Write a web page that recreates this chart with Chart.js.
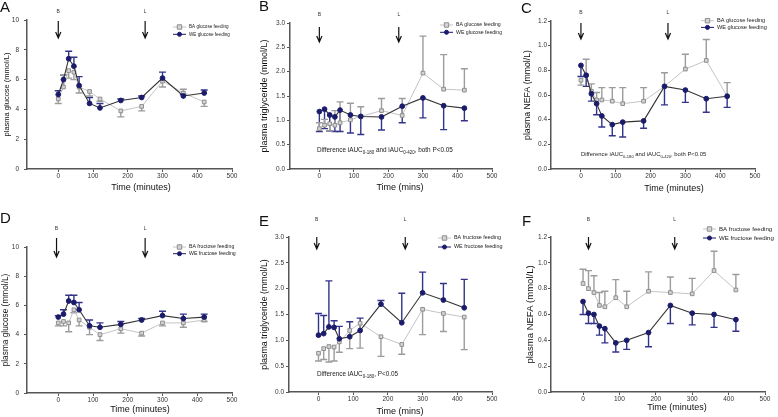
<!DOCTYPE html>
<html>
<head>
<meta charset="utf-8">
<script src="https://cdn.jsdelivr.net/npm/chart.js@4.4.0/dist/chart.umd.min.js"></script>
<style>
  body { margin: 0; background: #fff; width: 778px; height: 417px; position: relative; overflow: hidden; font-family: "Liberation Sans", Arial, sans-serif; }
  .letter { position: absolute; font-size: 15px; line-height: 15px; color: #111; }
</style>
</head>
<body>
<script>
// sampling times (minutes)
const times = [0, 15, 30, 45, 60, 90, 120, 180, 240, 300, 360, 420];
const xTicks = [0, 100, 200, 300, 400, 500];

const glucoseTicks = [0, 2, 4, 6, 8, 10];
const glucoseTickLabels = ["0", "2", "4", "6", "8", "10"];
const tgTicks = [0, 0.5, 1, 1.5, 2, 2.5, 3];
const tgTickLabels = ["0.0", "0.5", "1.0", "1.5", "2.0", "2.5", "3.0"];
const nefaTicks = [0, 0.2, 0.4, 0.6, 0.8, 1.0, 1.2];
const nefaTickLabels = ["0.0", "0.2", "0.4", "0.6", "0.8", "1.0", "1.2"];

// A: plasma glucose, glucose feeding (mean, end of SEM bar)
const gluGlcBA = [4.7, 5.5, 6.6, 6.5, 5.5, 5.2, 4.7, 3.9, 4.2, 5.9, 5.1, 4.5];
const gluGlcBAerr = [4.4, 6.3, 6.1, 6.0, 5.1, 4.9, 4.55, 3.5, 3.9, 5.5, 5.35, 4.2];
const gluGlcWE = [5.0, 6.0, 7.4, 6.9, 5.6, 4.4, 4.1, 4.6, 4.8, 6.1, 4.9, 5.1];
const gluGlcWEerr = [5.25, 6.3, 7.9, 7.5, 6.2, 4.8, 4.4, 4.7, 4.9, 6.5, 5.0, 5.3];

// B: plasma triglyceride, glucose feeding
const tgGlcBA = [0.83, 0.90, 0.93, 0.90, 0.95, 1.01, 1.08, 1.20, 1.10, 1.97, 1.64, 1.62];
const tgGlcBAerr = [0.95, 1.02, 0.78, 1.20, 1.38, 1.35, 1.28, 1.45, 1.45, 2.73, 2.35, 2.06];
const tgGlcWE = [1.18, 1.23, 1.11, 1.07, 1.21, 1.11, 1.08, 1.07, 1.29, 1.46, 1.30, 1.25];
const tgGlcWEerr = [0.77, 0.83, 0.78, 0.77, 0.77, 0.74, 0.71, 0.80, 0.95, 1.05, 0.81, 0.99];

// C: plasma NEFA, glucose feeding
const nefaGlcBA = [0.72, 0.76, 0.63, 0.56, 0.56, 0.55, 0.53, 0.55, 0.67, 0.81, 0.88, 0.59];
const nefaGlcBAerr = [0.68, 0.89, 0.69, 0.62, 0.66, 0.66, 0.66, 0.66, 0.78, 0.93, 1.05, 0.70];
const nefaGlcWE = [0.84, 0.76, 0.61, 0.53, 0.43, 0.36, 0.38, 0.39, 0.67, 0.64, 0.57, 0.59];
const nefaGlcWEerr = [0.75, 0.67, 0.55, 0.44, 0.34, 0.27, 0.26, 0.33, 0.52, 0.54, 0.46, 0.50];

// D: plasma glucose, fructose feeding
const gluFrcBA = [4.8, 4.9, 4.8, 5.7, 5.0, 4.5, 4.0, 4.4, 4.1, 4.8, 4.8, 5.0];
const gluFrcBAerr = [4.6, 4.6, 4.2, 5.5, 4.6, 4.0, 3.6, 4.1, 3.9, 4.6, 4.5, 4.9];
const gluFrcWE = [5.2, 5.4, 6.3, 6.2, 5.7, 4.6, 4.5, 4.7, 5.0, 5.3, 5.1, 5.2];
const gluFrcWEerr = [5.3, 5.7, 6.7, 6.7, 6.2, 5.0, 4.8, 4.9, 5.1, 5.6, 5.4, 5.4];

// E: plasma triglyceride, fructose feeding
const tgFrcBA = [0.75, 0.84, 0.88, 0.87, 0.97, 1.19, 1.33, 1.07, 0.92, 1.60, 1.52, 1.45];
const tgFrcBAerr = [0.60, 0.63, 0.58, 0.60, 0.77, 0.84, 0.85, 0.69, 0.73, 1.11, 1.17, 0.82];
const tgFrcWE = [1.10, 1.13, 1.26, 1.25, 1.03, 1.07, 1.19, 1.70, 1.34, 1.92, 1.78, 1.63];
const tgFrcWEerr = [1.52, 1.48, 2.15, 1.38, 1.27, 1.36, 1.43, 1.77, 1.91, 2.32, 2.10, 2.18];

// F: plasma NEFA, fructose feeding
const nefaFrcBA = [0.84, 0.80, 0.77, 0.67, 0.66, 0.73, 0.66, 0.78, 0.77, 0.76, 0.94, 0.79];
const nefaFrcBAerr = [0.95, 0.94, 0.90, 0.77, 0.78, 0.87, 0.78, 0.93, 0.89, 0.88, 1.09, 0.91];
const nefaFrcWE = [0.70, 0.61, 0.60, 0.51, 0.49, 0.38, 0.40, 0.46, 0.67, 0.61, 0.60, 0.56];
const nefaFrcWEerr = [0.60, 0.53, 0.53, 0.44, 0.38, 0.31, 0.33, 0.35, 0.53, 0.52, 0.50, 0.47];

// meal arrows (B = breakfast, L = lunch), in minutes
const arrowLetters = ["B", "L"];
const arrowsA = [0, 250];
const arrowsB = [0, 230];
const arrowsC = [0, 250];
const arrowsD = [-5, 250];
const arrowsE = [-5, 250];
const arrowsF = [15, 252];

const glcLabels = ["BA glucose feeding", "WE glucose feeding"];
const frcLabels = ["BA fructose feeding", "WE fructose feeding"];

const noteBoth = [["Difference iAUC", 0], ["0-180", 1], [" and iAUC", 0], ["0-420", 1], [", both P<0.05", 0]];
const noteOne = [["Difference iAUC", 0], ["0-180", 1], [", P<0.05", 0]];

Chart.defaults.font.family = '"Liberation Sans", Arial, sans-serif';
const FONT = '"Liberation Sans", Arial, sans-serif';

const BA_STYLE = {
  borderColor: "#c4c4c4", borderWidth: 1, pointStyle: "rect", pointRadius: 2.6,
  pointBackgroundColor: "#d4d4d4", pointBorderColor: "#8f8f8f", pointBorderWidth: 1, errColor: "#9c9c9c"
};
const WE_STYLE = {
  borderColor: "#333333", borderWidth: 1.1, pointStyle: "circle", pointRadius: 2.4,
  pointBackgroundColor: "#1b1b6b", pointBorderColor: "#1b1b6b", pointBorderWidth: 1, errColor: "#33338a"
};

const panels = [
  { key: "A", box: { x: 0, y: 0, w: 260, h: 205 }, area: { l: 27, t: 20, r: 232, b: 169 }, xMin: -90, yMax: 10,
    yTicks: glucoseTicks, yLabels: glucoseTickLabels, yTitle: "plasma glucose (mmol/L)", yTitleSize: 7.5, yTitleX: 7, yTickPad: 5,
    xTitle: "Time (minutes)", xTitlePos: [141, 188], xTitleSize: 9,
    ba: [gluGlcBA, gluGlcBAerr], we: [gluGlcWE, gluGlcWEerr], labels: glcLabels,
    legend: { x: 173, y: 27, gap: 7.3, size: 4.6 },
    arrows: arrowsA, arrowGeom: { label: -8, top: 1, bottom: 18 },
    note: null, letter: [0, -1] },
  { key: "B", box: { x: 260, y: 0, w: 260, h: 205 }, area: { l: 290, t: 23, r: 492, b: 169 }, xMin: -85, yMax: 3,
    yTicks: tgTicks, yLabels: tgTickLabels, yTitle: "plasma triglyceride (mmol/L)", yTitleSize: 9, yTitleX: 5, yTickPad: 2,
    xTitle: "Time (mins)", xTitlePos: [400, 188], xTitleSize: 9,
    ba: [tgGlcBA, tgGlcBAerr], we: [tgGlcWE, tgGlcWEerr], labels: glcLabels,
    legend: { x: 440, y: 25, gap: 7.3, size: 5.2 },
    arrows: arrowsB, arrowGeom: { label: -8, top: 4, bottom: 19 },
    note: { segs: noteBoth, x: 317, y: 150, size: 6.4 }, letter: [259, -2] },
  { key: "C", box: { x: 520, y: 0, w: 258, h: 205 }, area: { l: 551, t: 21, r: 755, b: 169 }, xMin: -86, yMax: 1.2,
    yTicks: nefaTicks, yLabels: nefaTickLabels, yTitle: "plasma NEFA (mmol/L)", yTitleSize: 8.7, yTitleX: 8, yTickPad: 1,
    xTitle: "Time (minutes)", xTitlePos: [674, 189], xTitleSize: 9,
    ba: [nefaGlcBA, nefaGlcBAerr], we: [nefaGlcWE, nefaGlcWEerr], labels: glcLabels,
    legend: { x: 701, y: 20.7, gap: 6.7, size: 5.6 },
    arrows: arrowsC, arrowGeom: { label: -8, top: 2, bottom: 18 },
    note: { segs: noteBoth, x: 581, y: 154, size: 5.9 }, letter: [521, 0] },
  { key: "D", box: { x: 0, y: 205, w: 260, h: 212 }, area: { l: 27, t: 247, r: 232, b: 393 }, xMin: -90, yMax: 10,
    yTicks: glucoseTicks, yLabels: glucoseTickLabels, yTitle: "plasma glucose (mmol/L)", yTitleSize: 8.3, yTitleX: 6, yTickPad: 5,
    xTitle: "Time (minutes)", xTitlePos: [140, 410], xTitleSize: 9,
    ba: [gluFrcBA, gluFrcBAerr], we: [gluFrcWE, gluFrcWEerr], labels: frcLabels,
    legend: { x: 173, y: 247, gap: 6.7, size: 5.2 },
    arrows: arrowsD, arrowGeom: { label: -18, top: -9, bottom: 10 },
    note: null, letter: [0, 210] },
  { key: "E", box: { x: 260, y: 205, w: 260, h: 212 }, area: { l: 289, t: 237, r: 492, b: 392 }, xMin: -85, yMax: 3,
    yTicks: tgTicks, yLabels: tgTickLabels, yTitle: "plasma triglyceride (mmol/L)", yTitleSize: 8.8, yTitleX: 5, yTickPad: 2,
    xTitle: "Time (mins)", xTitlePos: [400, 412], xTitleSize: 9,
    ba: [tgFrcBA, tgFrcBAerr], we: [tgFrcWE, tgFrcWEerr], labels: frcLabels,
    legend: { x: 438, y: 238, gap: 9, size: 5.4 },
    arrows: arrowsE, arrowGeom: { label: -17, top: 0, bottom: 12 },
    note: { segs: noteOne, x: 317, y: 374, size: 6.4 }, letter: [259, 213] },
  { key: "F", box: { x: 520, y: 205, w: 258, h: 212 }, area: { l: 551, t: 237, r: 765, b: 392 }, xMin: -88, yMax: 1.2,
    yTicks: nefaTicks, yLabels: nefaTickLabels, yTitle: "plasma NEFA (mmol/L)", yTitleSize: 9.5, yTitleX: 10, yTickPad: 1,
    xTitle: "Time (minutes)", xTitlePos: [677, 408], xTitleSize: 9,
    ba: [nefaFrcBA, nefaFrcBAerr], we: [nefaFrcWE, nefaFrcWEerr], labels: frcLabels,
    legend: { x: 703, y: 229, gap: 9, size: 6.1 },
    arrows: arrowsF, arrowGeom: { label: -17, top: 0, bottom: 12 },
    note: null, letter: [522, 213] }
];

function makeDataset(label, vals, err, style, order) {
  return Object.assign({
    label,
    data: times.map((t, i) => ({ x: t, y: vals[i] })),
    errEnd: err,
    fill: false,
    tension: 0,
    order
  }, style);
}

function drawMarker(ctx, ds, x, y) {
  ctx.fillStyle = ds.pointBackgroundColor;
  ctx.strokeStyle = ds.pointBorderColor;
  ctx.lineWidth = 1;
  const r = ds.pointRadius * 0.85;
  ctx.beginPath();
  if (ds.pointStyle === "rect") ctx.rect(x - r, y - r, 2 * r, 2 * r);
  else ctx.arc(x, y, r, 0, Math.PI * 2);
  ctx.fill();
  ctx.stroke();
}

function makeExtras(p) {
  const ox = p.box.x, oy = p.box.y;
  return {
    id: "extras" + p.key,
    // SEM bars, one-sided, under the lines
    beforeDatasetsDraw(chart) {
      const { ctx, scales: { x, y } } = chart;
      chart.data.datasets.forEach(ds => {
        ctx.save();
        ctx.strokeStyle = ds.errColor;
        ctx.lineWidth = 1.4;
        ds.data.forEach((pt, i) => {
          const px = x.getPixelForValue(pt.x);
          const py = y.getPixelForValue(pt.y);
          const pe = y.getPixelForValue(ds.errEnd[i]);
          ctx.beginPath();
          ctx.moveTo(px, py);
          ctx.lineTo(px, pe);
          ctx.moveTo(px - 3.5, pe);
          ctx.lineTo(px + 3.5, pe);
          ctx.stroke();
        });
        ctx.restore();
      });
    },
    afterDraw(chart) {
      const { ctx, chartArea, scales: { x } } = chart;
      ctx.save();
      // meal arrows
      const g = p.arrowGeom;
      p.arrows.forEach((t, i) => {
        const px = x.getPixelForValue(t);
        const t0 = chartArea.top + g.top, t1 = chartArea.top + g.bottom;
        ctx.strokeStyle = "#111";
        ctx.lineWidth = 1.2;
        ctx.beginPath();
        ctx.moveTo(px, t0);
        ctx.lineTo(px, t1);
        ctx.moveTo(px - 2.6, t1 - 6);
        ctx.lineTo(px, t1);
        ctx.lineTo(px + 2.6, t1 - 6);
        ctx.stroke();
        ctx.fillStyle = "#333";
        ctx.font = "5px " + FONT;
        ctx.textAlign = "center";
        ctx.textBaseline = "middle";
        ctx.fillText(arrowLetters[i], px, chartArea.top + g.label);
      });

      // x axis title
      ctx.fillStyle = "#111";
      ctx.font = p.xTitleSize + "px " + FONT;
      ctx.textAlign = "center";
      ctx.textBaseline = "middle";
      ctx.fillText(p.xTitle, p.xTitlePos[0] - ox, p.xTitlePos[1] - oy);

      // legend
      const lg = p.legend;
      const rows = [chart.data.datasets[1], chart.data.datasets[0]];
      rows.forEach((ds, r) => {
        const ly = lg.y + r * lg.gap - oy;
        const lx = lg.x - ox;
        ctx.strokeStyle = r === 0 ? ds.borderColor : ds.pointBackgroundColor;
        ctx.lineWidth = 1;
        ctx.beginPath();
        ctx.moveTo(lx, ly);
        ctx.lineTo(lx + 13, ly);
        ctx.stroke();
        drawMarker(ctx, ds, lx + 6.5, ly);
        ctx.fillStyle = "#222";
        ctx.font = lg.size + "px " + FONT;
        ctx.textAlign = "left";
        ctx.textBaseline = "middle";
        ctx.fillText(ds.label, lx + 16, ly);
      });

      // note with subscripts
      if (p.note) {
        const n = p.note;
        let nx = n.x - ox;
        const base = n.y - oy + n.size * 0.35;
        ctx.fillStyle = "#222";
        ctx.textAlign = "left";
        ctx.textBaseline = "alphabetic";
        n.segs.forEach(([txt, sub]) => {
          const size = sub ? n.size * 0.7 : n.size;
          ctx.font = size + "px " + FONT;
          ctx.fillText(txt, nx, sub ? base + n.size * 0.3 : base);
          nx += ctx.measureText(txt).width;
        });
      }
      ctx.restore();
    }
  };
}

function makeChart(p) {
  const canvas = document.createElement("canvas");
  canvas.width = p.box.w;
  canvas.height = p.box.h;
  canvas.style.cssText = `position:absolute;left:${p.box.x}px;top:${p.box.y}px`;
  document.body.appendChild(canvas);

  const letter = document.createElement("div");
  letter.className = "letter";
  letter.textContent = p.key;
  letter.style.left = p.letter[0] + "px";
  letter.style.top = p.letter[1] + "px";
  document.body.appendChild(letter);

  const yAxisWidth = p.area.l - p.box.x;
  const xAxisHeight = p.box.y + p.box.h - p.area.b;

  new Chart(canvas.getContext("2d"), {
    type: "line",
    data: {
      datasets: [
        makeDataset(p.labels[1], p.we[0], p.we[1], WE_STYLE, 0),
        makeDataset(p.labels[0], p.ba[0], p.ba[1], BA_STYLE, 1)
      ]
    },
    options: {
      responsive: false,
      animation: false,
      devicePixelRatio: 1,
      layout: {
        padding: { left: 0, top: p.area.t - p.box.y, right: p.box.x + p.box.w - p.area.r, bottom: 0 }
      },
      plugins: {
        legend: { display: false },
        tooltip: { enabled: false }
      },
      scales: {
        x: {
          type: "linear",
          min: p.xMin,
          max: 500,
          afterBuildTicks: (scale) => { scale.ticks = xTicks.map(v => ({ value: v })); },
          afterFit: (scale) => { scale.height = xAxisHeight; },
          ticks: { font: { size: 6.5 }, color: "#333", padding: 0, maxRotation: 0, autoSkip: false },
          grid: { drawOnChartArea: false, drawTicks: true, tickLength: 3, color: "#555" },
          border: { color: "#555", width: 1.5 }
        },
        y: {
          min: 0,
          max: p.yMax,
          afterBuildTicks: (scale) => { scale.ticks = p.yTicks.map(v => ({ value: v })); },
          afterFit: (scale) => { scale.width = yAxisWidth; },
          ticks: {
            font: { size: 6.5 }, color: "#333", padding: p.yTickPad, autoSkip: false,
            callback: (v, i) => p.yLabels[i]
          },
          grid: { drawOnChartArea: false, drawTicks: true, tickLength: 3, color: "#555" },
          border: { color: "#555", width: 1.5 },
          title: {
            display: true,
            text: p.yTitle,
            color: "#111",
            font: { size: p.yTitleSize, lineHeight: 1 },
            padding: { top: p.yTitleX - p.yTitleSize / 2, bottom: 0 }
          }
        }
      }
    },
    plugins: [makeExtras(p)]
  });
}

panels.forEach(makeChart);
</script>
</body>
</html>
